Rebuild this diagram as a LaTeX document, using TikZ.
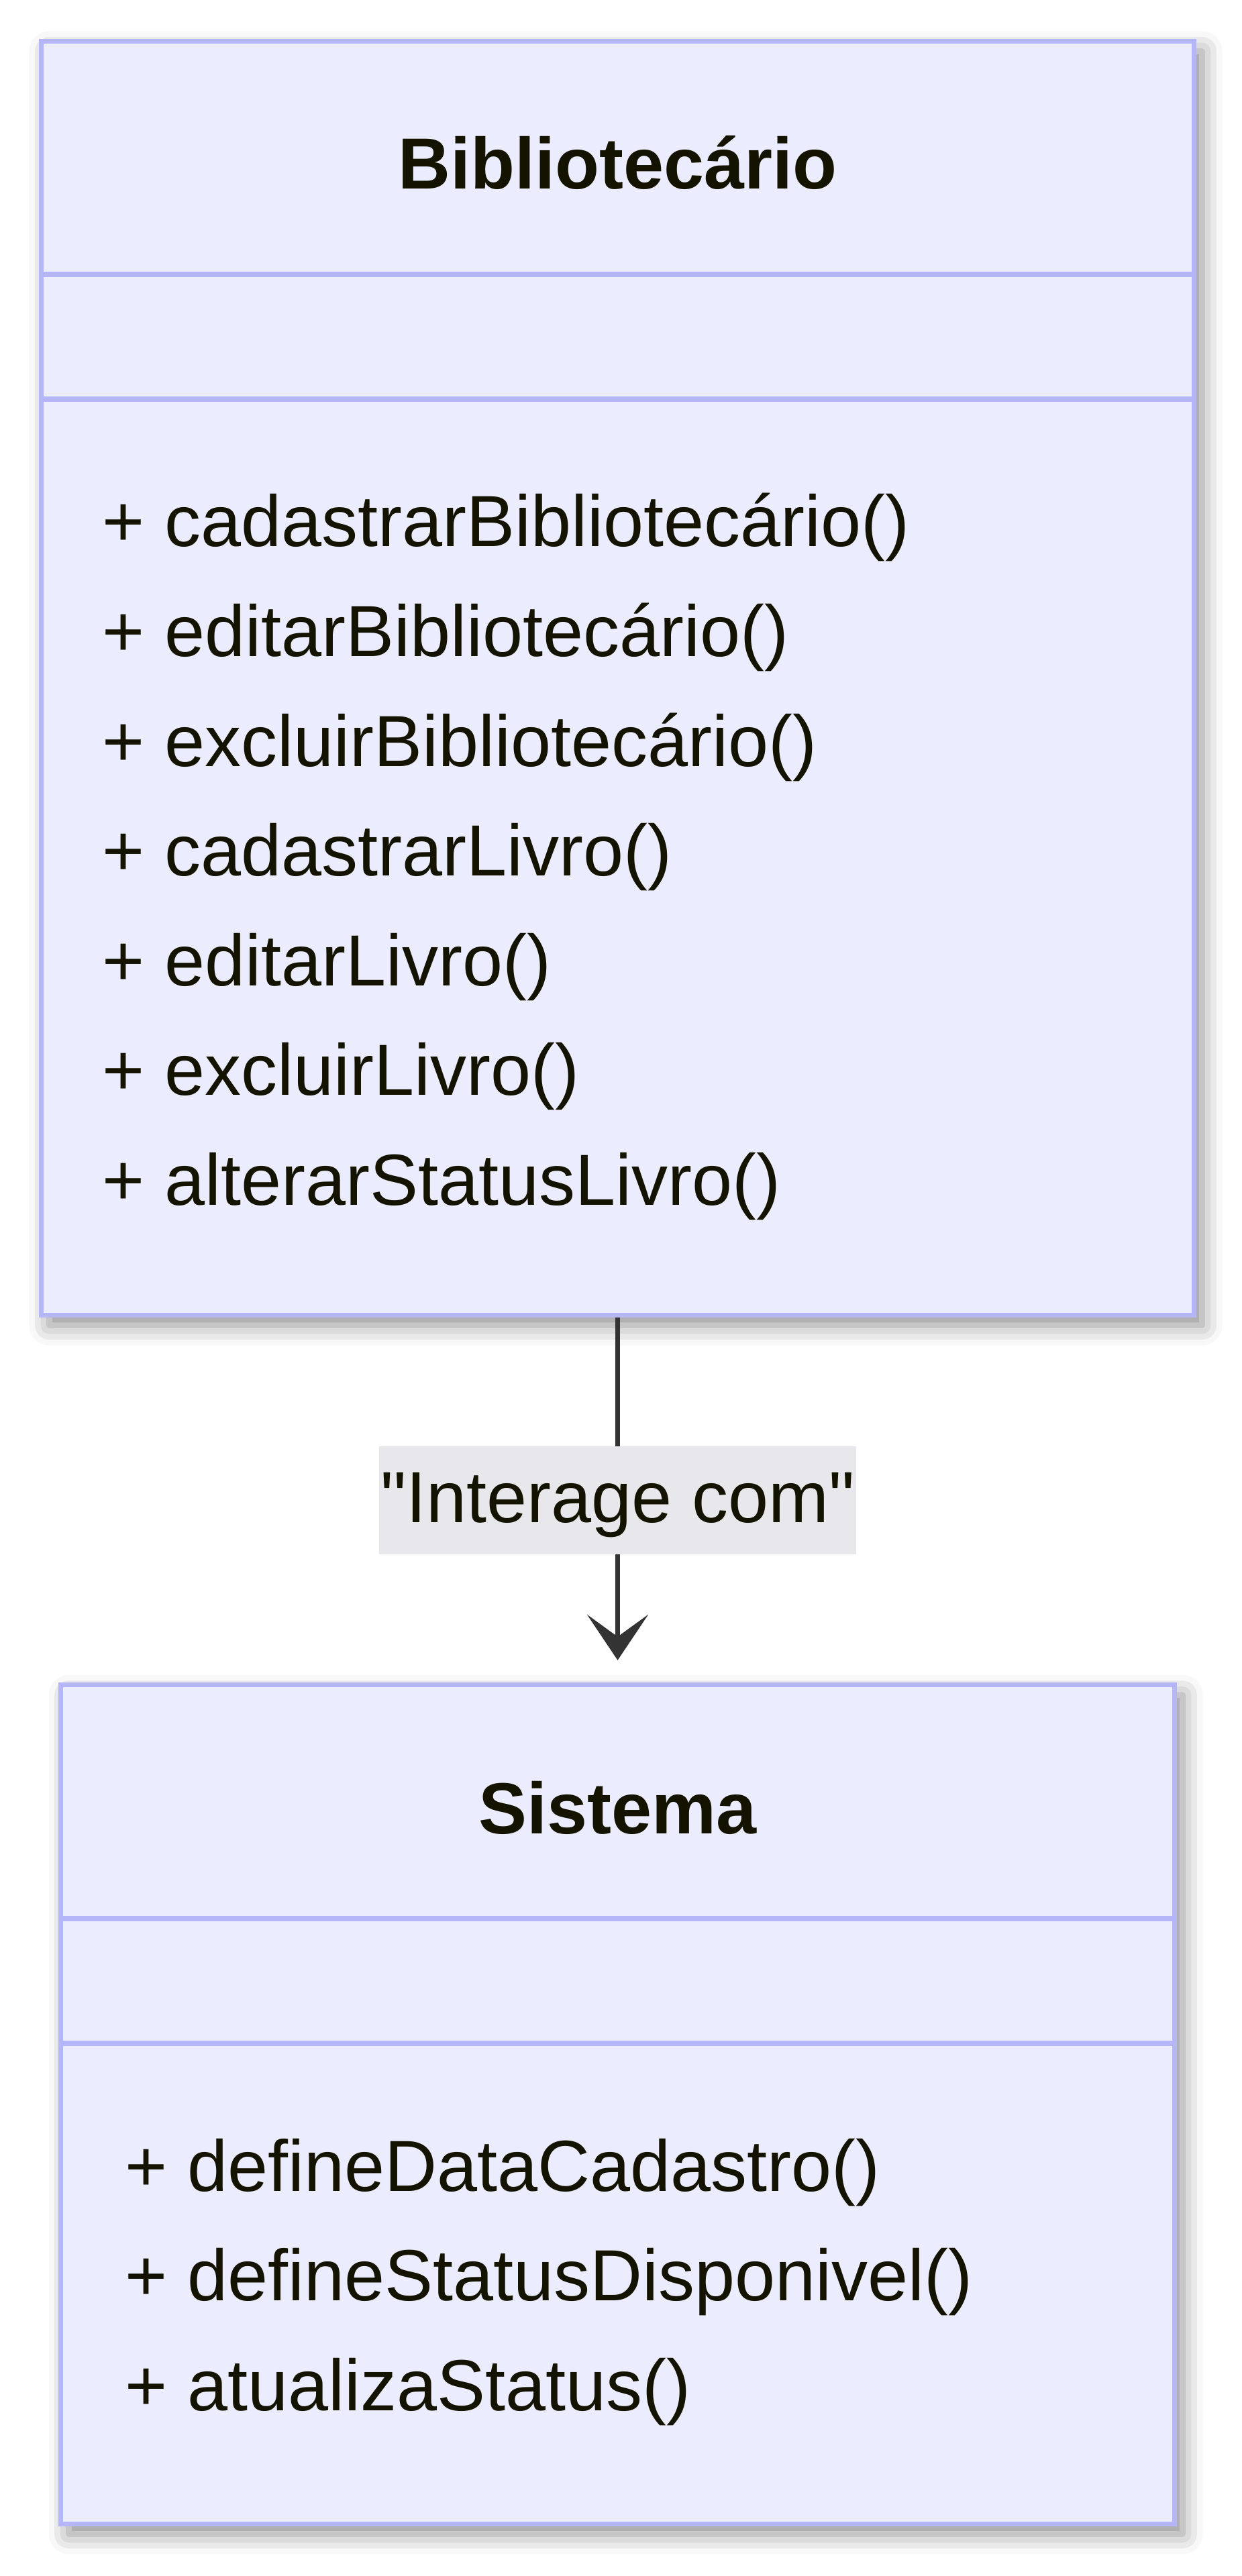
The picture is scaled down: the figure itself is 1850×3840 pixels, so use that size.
\documentclass[tikz,border=0pt]{standalone}
\usepackage{fontspec}
\setmainfont{Liberation Sans}[Ligatures=TeXOff]
\usepackage{xcolor}
\usetikzlibrary{positioning,arrows.meta,shadows.blur}
\definecolor{classfill}{HTML}{ECECFF}
\definecolor{classline}{HTML}{B5B5FA}
\definecolor{txt}      {HTML}{131300}
\definecolor{edge}     {HTML}{333333}
\definecolor{lblbg}    {HTML}{E8E8EC}
\newcommand{\umlfont}{\fontsize{30.7pt}{36pt}\selectfont}
\tikzset{
  classbox/.style   = {draw=classline, fill=classfill, line width=0.75mm, inner sep=0pt,
                       blur shadow={shadow xshift=1.2mm, shadow yshift=-1.5mm,
                                    shadow blur radius=3mm, shadow opacity=45}},
  divider/.style    = {draw=classline, line width=0.75mm},
  classtitle/.style = {font=\bfseries\umlfont, text=txt, anchor=base, inner sep=0pt},
  member/.style     = {font=\umlfont, text=txt, anchor=base west, inner sep=0pt},
  flow/.style       = {-{Stealth[length=6.8mm, width=9.1mm, inset=3.3mm]}, draw=edge,
                       line width=0.65mm, shorten >=3.3mm},
  edgelbl/.style    = {fill=lblbg, font=\umlfont, text=txt, minimum width=71mm,
                       minimum height=16.1mm, inner sep=0pt,
                       text height=7.7mm, text depth=1.1mm},
}

\begin{document}
\begin{tikzpicture}[x=0.01cm, y=-0.01cm]
  \useasboundingbox (0,0) rectangle (1850,3840);

  % class Bibliotecario
  \node[classbox, minimum width=171.7mm, minimum height=189.8mm] (bib) at (920.5,1011) {};
  \draw[divider] (62,409) -- (1779,409);
  \draw[divider] (62,595) -- (1779,595);
  \node[classtitle] (bibname) at (920.5,282) {Bibliotecário};
  \foreach \m [count=\i from 0] in {cadastrarBibliotecário(), editarBibliotecário(),
      excluirBibliotecário(), cadastrarLivro(), editarLivro(), excluirLivro(),
      alterarStatusLivro()}
    \node[member] (bibm\i) at (152,815+\i*163.5) {+ \m};

  % class Sistema
  \node[classbox, minimum width=165.9mm, minimum height=125mm] (sis) at (920.5,3137) {};
  \draw[divider] (91,2860) -- (1750,2860);
  \draw[divider] (91,3046) -- (1750,3046);
  \node[classtitle] (sisname) at (920.5,2733) {Sistema};
  \foreach \m [count=\i from 0] in {defineDataCadastro(), defineStatusDisponivel(),
      atualizaStatus()}
    \node[member] (sism\i) at (186,3266+\i*163.5) {+ \m};

  % relation
  \draw[flow] (bib.south) -- node[edgelbl] (rel) {"Interage com"} (sis.north);
\end{tikzpicture}
\end{document}
